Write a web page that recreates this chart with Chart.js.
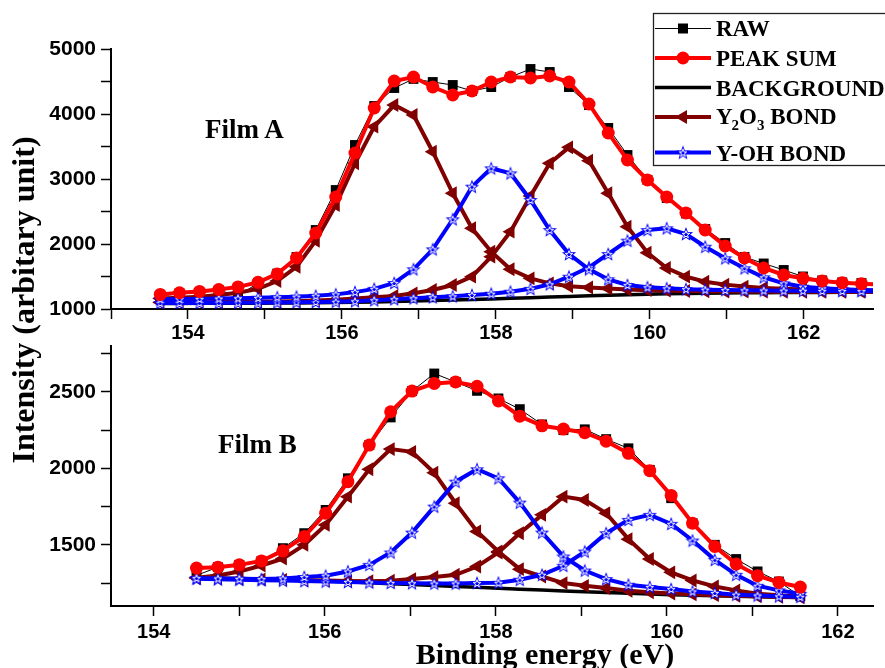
<!DOCTYPE html>
<html>
<head>
<meta charset="utf-8">
<script src="https://cdn.jsdelivr.net/npm/chart.js"></script>
<style>
html, body { margin: 0; padding: 0; background: #fff; overflow: hidden; }
#wrap { position: relative; width: 885px; height: 668px; }
#topBox { position: absolute; left: 0; top: 0; width: 885px; height: 345px; }
#botBox { position: absolute; left: 0; top: 332px; width: 885px; height: 336px; }
.ttl { position: absolute; font-family: 'Liberation Serif', 'Times New Roman', serif; font-weight: bold; color: #000; white-space: nowrap; text-align: center; }
#yTitle { left: -177px; top: 284px; width: 400px; height: 32px; font-size: 32px; line-height: 32px; transform: rotate(-90deg); }
#xTitle { left: 345px; top: 639px; width: 400px; font-size: 30px; line-height: 30px; }
#filmA { left: 205px; top: 116px; font-size: 27px; line-height: 27px; text-align: left; }
#filmB { left: 218px; top: 431px; font-size: 27px; line-height: 27px; text-align: left; }
</style>
</head>
<body>
<div id="wrap">
  <div id="topBox"><canvas id="topChart"></canvas></div>
  <div id="botBox"><canvas id="botChart"></canvas></div>
  <div class="ttl" id="yTitle">Intensity (arbitary unit)</div>
  <div class="ttl" id="xTitle">Binding energy (eV)</div>
  <div class="ttl" id="filmA">Film A</div>
  <div class="ttl" id="filmB">Film B</div>
</div>
<script>
// ---------- Film A (top panel) ----------
const topEnergy = [153.64,153.89,154.15,154.40,154.65,154.91,155.16,155.41,155.66,155.92,
  156.17,156.42,156.68,156.93,157.18,157.44,157.69,157.94,158.19,158.45,
  158.70,158.95,159.21,159.46,159.71,159.97,160.22,160.47,160.72,160.98,
  161.23,161.48,161.74,161.99,162.24,162.50,162.75,163.00];
const topRaw = [1200,1235,1250,1290,1200,1400,1545,1800,2215,2830,
  3523,4123,4400,4540,4492,4446,4354,4415,4569,4692,
  4646,4415,4138,3785,3369,2985,2708,2470,2230,2015,
  1800,1700,1600,1500,1440,1410,1400,1380];
const topSum = [1225,1250,1270,1300,1340,1410,1540,1785,2169,2723,
  3400,4092,4508,4569,4415,4292,4354,4492,4569,4554,
  4585,4492,4154,3708,3292,2985,2723,2477,2215,1969,
  1785,1631,1523,1472,1431,1405,1390,1375];
const topBg = [1085,1086,1087,1088,1089,1090,1092,1094,1097,1100,
  1104,1109,1115,1122,1130,1138,1146,1155,1164,1174,
  1184,1194,1204,1213,1221,1228,1234,1239,1243,1246,
  1249,1251,1253,1254,1255,1256,1257,1257];
const topY2O3a = [1160,1175,1190,1215,1250,1310,1430,1650,2050,2600,
  3241,3805,4138,3985,3420,2780,2242,1882,1611,1472,
  1395,1350,1330,1315,1300,1290,1282,1277,1273,1270,
  1268,1267,1266,1265,1264,1263,1263,1262];
const topY2O3b = [1100,1102,1104,1106,1109,1112,1116,1121,1130,1142,
  1160,1180,1200,1241,1292,1369,1497,1805,2190,2738,
  3241,3487,3282,2780,2266,1866,1630,1497,1420,1375,
  1345,1325,1310,1300,1293,1288,1285,1283];
const topYOHa = [1150,1152,1155,1160,1165,1172,1180,1190,1203,1225,
  1260,1310,1400,1611,1918,2380,2882,3164,3087,2677,
  2215,1846,1611,1457,1369,1334,1318,1305,1298,1292,
  1288,1285,1282,1280,1278,1276,1275,1274];
const topYOHb = [1092,1093,1094,1095,1097,1099,1101,1104,1108,1113,
  1120,1135,1150,1165,1180,1195,1215,1235,1266,1310,
  1380,1497,1641,1846,2051,2215,2242,2154,1958,1780,
  1626,1488,1395,1343,1318,1303,1292,1285];

// ---------- Film B (bottom panel) ----------
const botEnergy = [154.50,154.75,155.00,155.26,155.51,155.76,156.01,156.27,156.52,156.77,
  157.02,157.28,157.53,157.78,158.03,158.28,158.54,158.79,159.04,159.29,
  159.55,159.80,160.05,160.30,160.56,160.81,161.06,161.31,161.56];
const botRaw = [1300,1354,1369,1395,1478,1576,1728,1935,2152,2333,
  2505,2620,2565,2507,2457,2387,2287,2250,2255,2191,
  2131,1990,1805,1641,1500,1407,1326,1260,1163];
const botSum = [1348,1354,1369,1395,1461,1554,1707,1913,2152,2370,
  2505,2555,2565,2537,2441,2341,2278,2257,2233,2178,
  2098,1985,1823,1641,1489,1374,1298,1254,1224];
const botBg = [1285,1282,1279,1276,1272,1268,1263,1258,1252,1246,
  1240,1234,1228,1222,1216,1210,1204,1198,1193,1188,
  1183,1178,1174,1170,1167,1164,1161,1158,1155];
const botY2O3a = [1285,1300,1325,1365,1410,1500,1630,1815,1994,2126,
  2108,1971,1772,1587,1456,1341,1293,1250,1232,1217,
  1200,1190,1182,1176,1171,1167,1163,1160,1157];
const botY2O3b = [1283,1280,1277,1274,1271,1268,1266,1264,1262,1265,
  1276,1289,1304,1358,1450,1576,1696,1815,1793,1707,
  1537,1407,1320,1267,1228,1202,1180,1170,1160];
const botYOHa = [1283,1280,1278,1276,1280,1290,1298,1326,1369,1450,
  1580,1750,1913,1994,1935,1776,1580,1424,1332,1276,
  1239,1224,1211,1195,1185,1174,1169,1163,1160];
const botYOHb = [1278,1275,1272,1269,1266,1263,1260,1257,1254,1251,
  1249,1247,1247,1250,1252,1272,1304,1363,1456,1576,
  1663,1696,1637,1528,1402,1304,1232,1202,1180];

// axis ticks
const topXTicks = [153,154,155,156,157,158,159,160,161,162];
const botXTicks = [154,155,156,157,158,159,160,161,162];
const topYTicks = [1000,1500,2000,2500,3000,3500,4000,4500,5000];
const botYTicks = [1250,1500,1750,2000,2250,2500,2750];

const legendLabels = ['RAW', 'PEAK SUM', 'BACKGROUND', 'Y2O3 BOND', 'Y-OH BOND'];

const RED = '#ff0000', DARKRED = '#800000', BLUE = '#0000ff';

// star marker drawn once on a small canvas
function makeStar(size) {
    const c = document.createElement('canvas');
    c.width = size; c.height = size;
    const g = c.getContext('2d');
    const cx = size / 2, cy = size / 2;
    function path(ro, ri) {
        g.beginPath();
        for (let k = 0; k < 10; k++) {
            const r = k % 2 === 0 ? ro : ri;
            const a = -Math.PI / 2 + k * Math.PI / 5;
            const px = cx + r * Math.cos(a), py = cy + r * Math.sin(a) + 0.6;
            k === 0 ? g.moveTo(px, py) : g.lineTo(px, py);
        }
        g.closePath();
    }
    path(size / 2 - 0.5, size / 5);
    g.fillStyle = BLUE;
    g.fill();
    path(size / 4, size / 10);
    g.strokeStyle = '#fff';
    g.lineWidth = 1;
    g.stroke();
    return c;
}
const starImg = makeStar(16);

const styles = {
    raw:  { borderColor: '#000', borderWidth: 1, pointStyle: 'rect', pointRadius: 7, pointBackgroundColor: '#000', pointBorderColor: '#000', pointBorderWidth: 0 },
    sum:  { borderColor: RED, borderWidth: 4, pointStyle: 'circle', pointRadius: 6.5, pointBackgroundColor: RED, pointBorderColor: RED, pointBorderWidth: 0 },
    bg:   { borderColor: '#000', borderWidth: 3.5, pointRadius: 0 },
    y2o3: { borderColor: DARKRED, borderWidth: 4, pointStyle: 'triangle', pointRotation: -90, pointRadius: 8, pointBackgroundColor: DARKRED, pointBorderColor: DARKRED, pointBorderWidth: 0 },
    yoh:  { borderColor: BLUE, borderWidth: 4, pointStyle: starImg, pointRadius: 8 }
};

function mkSet(label, xs, ys, style) {
    return Object.assign({
        label: label,
        data: xs.map((x, i) => ({ x: x, y: ys[i] })),
        tension: 0,
        fill: false
    }, style);
}

function buildSets(xs, raw, sum, bg, y2a, y2b, oha, ohb) {
    // first in list is drawn on top
    return [
        mkSet(legendLabels[1], xs, sum, styles.sum),
        mkSet(legendLabels[4], xs, oha, styles.yoh),
        mkSet(legendLabels[4], xs, ohb, styles.yoh),
        mkSet(legendLabels[3], xs, y2a, styles.y2o3),
        mkSet(legendLabels[3], xs, y2b, styles.y2o3),
        mkSet(legendLabels[2], xs, bg, styles.bg),
        mkSet(legendLabels[0], xs, raw, styles.raw)
    ];
}

// ===== LEGEND BOX (top panel) =====
const boxLegend = {
    id: 'boxLegend',
    afterDraw(chart) {
        const ctx = chart.ctx;
        ctx.save();
        ctx.fillStyle = '#fff';
        ctx.fillRect(653, 13, 240, 153);
        ctx.strokeStyle = '#222';
        ctx.lineWidth = 1.3;
        ctx.strokeRect(653.5, 13.5, 240, 152);

        const rows = [
            { st: styles.raw, ly: 28.5, by: 36 },
            { st: styles.sum, ly: 58, by: 66 },
            { st: styles.bg, ly: 87.5, by: 95.5 },
            { st: styles.y2o3, ly: 117, by: 124 },
            { st: styles.yoh, ly: 152.5, by: 160.5 }
        ];
        const x0 = 655, x1 = 711, xm = 683, tx = 716;
        rows.forEach((r, i) => {
            ctx.strokeStyle = r.st.borderColor;
            ctx.lineWidth = r.st.borderWidth;
            ctx.beginPath();
            ctx.moveTo(x0, r.ly); ctx.lineTo(x1, r.ly);
            ctx.stroke();
            ctx.fillStyle = r.st.borderColor;
            if (r.st.pointStyle === 'rect') {
                ctx.fillRect(xm - 5, r.ly - 5, 10, 10);
            } else if (r.st.pointStyle === 'circle') {
                ctx.beginPath(); ctx.arc(xm, r.ly, 6.5, 0, Math.PI * 2); ctx.fill();
            } else if (r.st.pointStyle === 'triangle') {
                ctx.beginPath();
                ctx.moveTo(xm - 8, r.ly);
                ctx.lineTo(xm + 4, r.ly - 7);
                ctx.lineTo(xm + 4, r.ly + 7);
                ctx.closePath(); ctx.fill();
            } else if (r.st.pointStyle === starImg) {
                ctx.drawImage(starImg, xm - 8, r.ly - 8);
            }
            ctx.fillStyle = '#000';
            ctx.textBaseline = 'alphabetic';
            ctx.textAlign = 'left';
            const big = "bold 23px 'Liberation Serif', 'Times New Roman', serif";
            const sub = "bold 15px 'Liberation Serif', 'Times New Roman', serif";
            if (i === 3) {
                let x = tx;
                ctx.font = big; ctx.fillText('Y', x, r.by); x += ctx.measureText('Y').width - 1;
                ctx.font = sub; ctx.fillText('2', x, r.by + 6); x += ctx.measureText('2').width;
                ctx.font = big; ctx.fillText('O', x, r.by); x += ctx.measureText('O').width;
                ctx.font = sub; ctx.fillText('3', x, r.by + 6); x += ctx.measureText('3').width;
                ctx.font = big; ctx.fillText(' BOND', x, r.by);
            } else {
                ctx.font = big;
                ctx.fillText(legendLabels[i], tx, r.by);
            }
        });
        ctx.restore();
    }
};

function axisCommon() {
    return {
        type: 'linear',
        border: { display: true, color: '#000', width: 2 },
        grid: { drawOnChartArea: false, drawTicks: true, tickLength: 10, tickColor: '#000', tickWidth: 1.5 },
        ticks: {
            color: '#000',
            autoSkip: false,
            maxRotation: 0,
            font: { family: "'Liberation Sans', Arial, sans-serif", weight: 'bold', size: 20 }
        }
    };
}

function makeChart(id, sets, opt) {
    const x = axisCommon();
    x.min = opt.xMin; x.max = opt.xMax;
    x.afterBuildTicks = s => { s.ticks = opt.xTicks.map(v => ({ value: v })); };
    x.afterFit = s => { s.height = opt.xHeight; s.paddingLeft = 0; s.paddingRight = 0; };
    x.ticks.padding = opt.xPad;
    x.ticks.callback = v => (v % 2 === 0 ? String(v) : '');

    const y = axisCommon();
    y.min = opt.yMin; y.max = opt.yMax;
    y.afterBuildTicks = s => { s.ticks = opt.yTicks.map(v => ({ value: v })); };
    y.afterFit = s => { s.width = 111; s.paddingTop = 0; s.paddingBottom = 0; };
    y.ticks.padding = 5;
    y.ticks.font = { family: "'Liberation Sans', Arial, sans-serif", weight: 'bold', size: 21 };
    y.ticks.callback = v => (v % opt.yLabelStep === 0 ? String(v) : '');

    return new Chart(document.getElementById(id), {
        type: 'line',
        data: { datasets: sets },
        options: {
            responsive: true,
            maintainAspectRatio: false,
            animation: false,
            layout: { padding: { top: opt.padTop, left: 0, right: 0, bottom: 0 } },
            plugins: { legend: { display: false }, tooltip: { enabled: false } },
            scales: { x: x, y: y }
        },
        plugins: opt.plugins || []
    });
}

makeChart('topChart',
    buildSets(topEnergy, topRaw, topSum, topBg, topY2O3a, topY2O3b, topYOHa, topYOHb),
    { xMin: 153, xMax: 162.9, xTicks: topXTicks, xHeight: 36, xPad: 2,
      yMin: 1000, yMax: 5000, yTicks: topYTicks, yLabelStep: 1000, padTop: 49,
      plugins: [boxLegend] });

// bottom canvas overlaps the top one a little so its padding can be set exactly
makeChart('botChart',
    buildSets(botEnergy, botRaw, botSum, botBg, botY2O3a, botY2O3b, botYOHa, botYOHb),
    { xMin: 153.5, xMax: 162.41, xTicks: botXTicks, xHeight: 62, xPad: 4,
      yMin: 1100, yMax: 2800, yTicks: botYTicks, yLabelStep: 500, padTop: 14 });
</script>
</body>
</html>
